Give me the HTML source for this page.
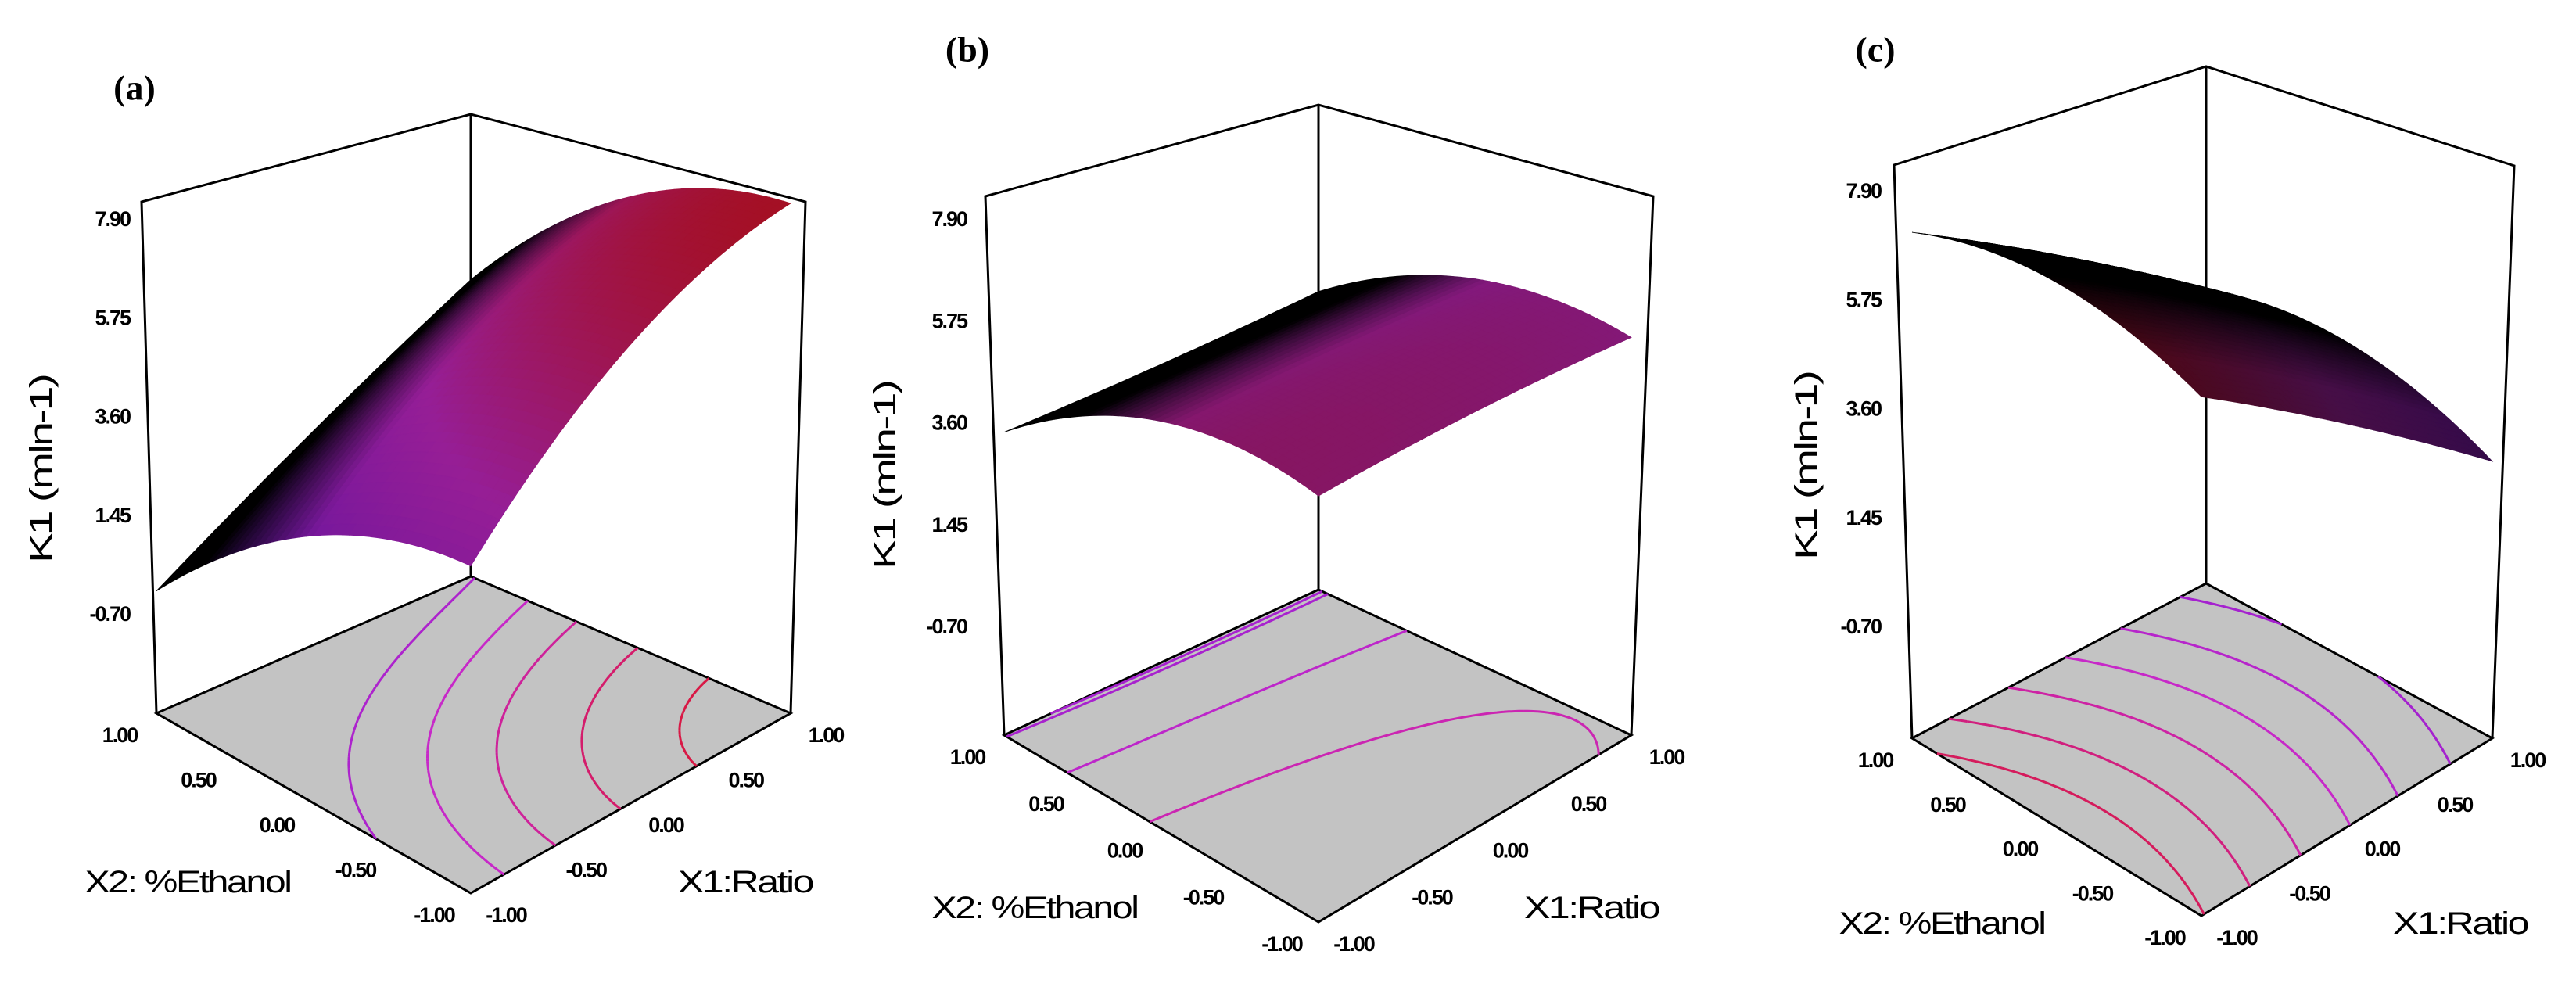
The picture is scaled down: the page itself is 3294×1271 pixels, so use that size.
<!DOCTYPE html>
<html>
<head>
<meta charset="utf-8">
<style>
html,body{margin:0;padding:0;background:#fff;}
svg{display:block;}
text{font-family:"Liberation Sans",Arial,sans-serif;}
.tick{font-weight:bold;font-size:27px;letter-spacing:-2px;fill:#000;}
.title{font-size:40px;fill:#000;letter-spacing:-2px;}
.plabel{font-family:"Liberation Serif",serif;font-weight:bold;font-size:46px;fill:#000;}
</style>
</head>
<body>
<svg id="chart" xmlns="http://www.w3.org/2000/svg" width="3294" height="1271" viewBox="0 0 3294 1271"></svg>
<script>
// ---- data ----
// response grid: rows x2 = -1, 0, 1 ; cols x1 = -1, 0, 1  (K1 values)
const zGridA = [[4.26, 7.13, 8.24], [2.96, 5.6, 6.9], [-0.2, 1.8, 3.6]];
const zGridB = [[6.0, 5.8, 5.4], [5.6, 5.4, 5.1], [3.4, 3.3, 3.3]];
const zGridC = [[7.34, 5.05, 2.56], [7.84, 5.7, 3.36], [7.08, 5.09, 2.9]];
const contourA = [3.7, 5.0, 6.0, 7.0, 7.8];
const contourB = [3.36, 3.45, 4.5, 5.5];
const contourC = [3.3, 4.2, 5.0, 5.8, 6.6, 7.3];
const zTickLabels = ["7.90", "5.75", "3.60", "1.45", "-0.70"];
const zTickValues = [7.90, 5.75, 3.60, 1.45, -0.70];
const xTickLabels = ["-1.00", "-0.50", "0.00", "0.50", "1.00"];
const xTickValues = [-1, -0.5, 0, 0.5, 1];
const panelLetters = ["(a)", "(b)", "(c)"];

// ---- layout (pixel geometry, not data) ----
const panels = [
 {id:'a', grid:zGridA, levels:contourA, letter:panelLetters[0], letterPos:[172,112],
  F:[602,1142], R:[1011,912], L:[200,912], B:[602,737],
  TL:[181,258], TB:[602,146], TR:[1030,258],
  zTop:280, zBot:785, labelX:166, k1:[53,600], x2t:[240,1128], x1t:[953,1128],
  dark:[0.5,0.35,0.25]},
 {id:'b', grid:zGridB, levels:contourB, letter:panelLetters[1], letterPos:[1237,63],
  F:[1686,1179], R:[2086,940], L:[1284,940], B:[1686,754],
  TL:[1260,251], TB:[1686,134], TR:[2114,251],
  zTop:280, zBot:801, labelX:1236, k1:[1132,608], x2t:[1323,1161], x1t:[2035,1161],
  dark:[0.45,0.3,0.35]},
 {id:'c', grid:zGridC, levels:contourC, letter:panelLetters[2], letterPos:[2398,63],
  F:[2815,1171], R:[3187,944], L:[2445,944], B:[2821,746],
  TL:[2422,211], TB:[2821,85], TR:[3215,212],
  zTop:244, zBot:801, labelX:2405, k1:[2310,596], x2t:[2483,1181], x1t:[3146,1181],
  dark:[0.15,0.4,0.65]}
];

const NS = 'http://www.w3.org/2000/svg';
const svg = document.getElementById('chart');
function mk(tag, attrs, parent){
  const e = document.createElementNS(NS, tag);
  for (const k in attrs) e.setAttribute(k, attrs[k]);
  (parent||svg).appendChild(e);
  return e;
}
function lag(t){ return [t*(t-1)/2, 1-t*t, t*(t+1)/2]; }
function zAt(grid, x1, x2){
  const a = lag(x1), b = lag(x2);
  let s = 0;
  for (let i=0;i<3;i++) for (let j=0;j<3;j++) s += b[i]*a[j]*grid[i][j];
  return s;
}
function floorPt(p, x1, x2){
  const u=(x1+1)/2, v=(x2+1)/2;
  const w=[(1-u)*(1-v), u*(1-v), (1-u)*v, u*v];
  return [w[0]*p.F[0]+w[1]*p.R[0]+w[2]*p.L[0]+w[3]*p.B[0],
          w[0]*p.F[1]+w[1]*p.R[1]+w[2]*p.L[1]+w[3]*p.B[1]];
}
// global colour scale over K1
function cmap(z){
  let t = z/8.4;
  t=Math.max(0,Math.min(1,t));
  const c0=[100,20,220], c1=[200,40,200], c2=[220,20,40];
  let a,b,f;
  if(t<0.6){a=c0;b=c1;f=t/0.6;} else {a=c1;b=c2;f=(t-0.6)/0.4;}
  return [0,1,2].map(i=>a[i]+(b[i]-a[i])*f);
}
function rgb(c){ return 'rgb('+c.map(v=>Math.round(v)).join(',')+')'; }

panels.forEach(function(p){
  const g = mk('g', {});
  
  
  const k = (p.zBot - p.zTop)/(zTickValues[0]-zTickValues[4]);
  const H = p.L[1] - p.zBot;
  const zScreen = function(x1,x2,z){
    const f = floorPt(p,x1,x2);
    return [f[0], f[1] - H - (z - zTickValues[4])*k];
  };

  const pl = mk('text', {x:p.letterPos[0], y:p.letterPos[1], 'text-anchor':'middle', 'dominant-baseline':'central', class:'plabel'}, g);
  pl.textContent = p.letter;
  
  

  const fl = mk('polygon', {points:[p.F,p.R,p.B,p.L].map(q=>q.join(',')).join(' '), fill:'#c3c3c3', stroke:'#000', 'stroke-width':3}, g);
  
  

  const N = 80;
  const cg = mk('g', {fill:'none', 'stroke-width':3}, g);
  
  
  const vals = [];
  for (let i=0;i<=N;i++){ vals.push([]); for (let j=0;j<=N;j++) vals[i].push(zAt(p.grid, -1+2*j/N, -1+2*i/N)); }
  p.levels.forEach(function(lv, li){
    let d = '';
    for (let i=0;i<N;i++) for (let j=0;j<N;j++){
      const c = [[i,j],[i,j+1],[i+1,j+1],[i+1,j]];
      const pts = [];
      for (let e=0;e<4;e++){
        const A=c[e], Bc=c[(e+1)%4];
        const va=vals[A[0]][A[1]], vb=vals[Bc[0]][Bc[1]];
        if ((va-lv)*(vb-lv) < 0){
          const t=(lv-va)/(vb-va);
          const ii=A[0]+(Bc[0]-A[0])*t, jj=A[1]+(Bc[1]-A[1])*t;
          pts.push(floorPt(p, -1+2*jj/N, -1+2*ii/N));
        }
      }
      if (pts.length>=2) d += 'M'+pts[0][0].toFixed(1)+','+pts[0][1].toFixed(1)+'L'+pts[1][0].toFixed(1)+','+pts[1][1].toFixed(1);
      if (pts.length===4) d += 'M'+pts[2][0].toFixed(1)+','+pts[2][1].toFixed(1)+'L'+pts[3][0].toFixed(1)+','+pts[3][1].toFixed(1);
    }
    const col = cmap(lv);
    const path = mk('path', {d:d, stroke:rgb(col)}, cg);
    
    
  });

  const bl = 'M'+p.L.join(',')+'L'+p.TL.join(',')+'L'+p.TB.join(',')+'L'+p.TR.join(',')+'L'+p.R.join(',')+'M'+p.TB.join(',')+'L'+p.B.join(',');
  const box = mk('path', {d:bl, fill:'none', stroke:'#000', 'stroke-width':3}, g);
  
  

  const sg = mk('g', {}, g);
  
  
  const M = 44;
  const quads = [];
  for (let i=0;i<M;i++) for (let j=0;j<M;j++) quads.push([i,j]);
  quads.sort((a,b)=>(b[0]+b[1])-(a[0]+a[1]));
  quads.forEach(function(q){
    const x1a=-1+2*q[1]/M, x1b=-1+2*(q[1]+1)/M, x2a=-1+2*q[0]/M, x2b=-1+2*(q[0]+1)/M;
    const cs=[[x1a,x2a],[x1b,x2a],[x1b,x2b],[x1a,x2b]];
    const pts=cs.map(c=>zScreen(c[0],c[1],zAt(p.grid,c[0],c[1])));
    const xm=(x1a+x1b)/2, x2m=(x2a+x2b)/2, zm=zAt(p.grid,xm,x2m);
    const v=(x2m+1)/2;
    let dk = Math.max(0,Math.min(1,(v-p.dark[0])/p.dark[1]));
    dk = p.dark[2] + (1-p.dark[2])*dk;
    const col = cmap(zm).map(c=>c*(1-dk));
    const fill = rgb(col);
    const poly = mk('polygon', {points:pts.map(t=>t[0].toFixed(1)+','+t[1].toFixed(1)).join(' '), fill:fill, stroke:fill, 'stroke-width':0.8}, sg);
    
    
  });

  zTickLabels.forEach(function(lbl, i){
    const y = p.zBot - (zTickValues[i]-zTickValues[4])*k;
    const t = mk('text', {x:p.labelX, y:y, 'text-anchor':'end', 'dominant-baseline':'central', class:'tick'}, g);
    t.textContent = lbl;
    
    
  });
  xTickValues.forEach(function(val, i){
    const a = floorPt(p, -1, val);
    const t = mk('text', {x:a[0]-47, y:a[1]+28, 'text-anchor':'middle', 'dominant-baseline':'central', class:'tick'}, g);
    t.textContent = xTickLabels[i];
    
    
    const b = floorPt(p, val, -1);
    const t2 = mk('text', {x:b[0]+45, y:b[1]+28, 'text-anchor':'middle', 'dominant-baseline':'central', class:'tick'}, g);
    t2.textContent = xTickLabels[i];
    
    
  });
  const yt = mk('text', {x:p.k1[0], y:p.k1[1], 'text-anchor':'middle', 'dominant-baseline':'central', class:'title', transform:'rotate(-90 '+p.k1[0]+' '+p.k1[1]+')', textLength:240, lengthAdjust:'spacingAndGlyphs'}, g);
  yt.textContent = 'K1 (mln-1)';
  
  
  const x2t = mk('text', {x:p.x2t[0], y:p.x2t[1], 'text-anchor':'middle', 'dominant-baseline':'central', class:'title', textLength:263, lengthAdjust:'spacingAndGlyphs'}, g);
  x2t.textContent = 'X2: %Ethanol';
  
  
  const x1t = mk('text', {x:p.x1t[0], y:p.x1t[1], 'text-anchor':'middle', 'dominant-baseline':'central', class:'title', textLength:172, lengthAdjust:'spacingAndGlyphs'}, g);
  x1t.textContent = 'X1:Ratio';
  
  
});
</script>
</body>
</html>
